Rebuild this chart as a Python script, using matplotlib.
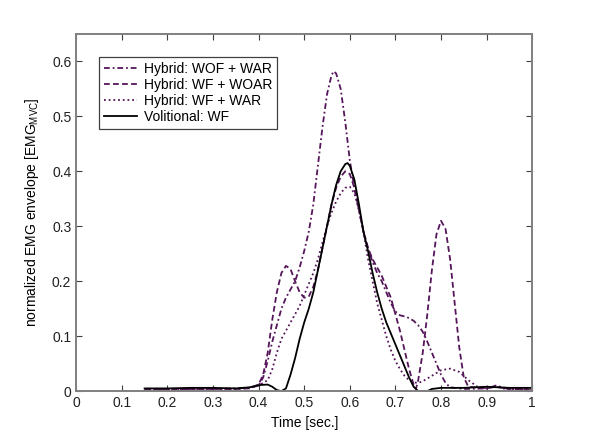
import matplotlib

matplotlib.use("Agg")
import matplotlib.pyplot as plt  # noqa: E402
from matplotlib.ticker import FormatStrFormatter  # noqa: E402

# values (time in s, normalized envelope)
wofwar_t = [0.15, 0.20, 0.25, 0.30, 0.35, 0.38, 0.40, 0.41, 0.42, 0.43, 0.44, 0.45,
            0.46, 0.47, 0.48, 0.49, 0.50, 0.51, 0.52, 0.53, 0.54, 0.55, 0.56, 0.565,
            0.57, 0.58, 0.59, 0.60, 0.61, 0.62, 0.63, 0.64, 0.65, 0.66, 0.67, 0.68,
            0.69, 0.70, 0.71, 0.72, 0.73, 0.74, 0.75, 0.76, 0.77, 0.78, 0.79, 0.80,
            0.81, 0.82, 0.85, 0.90, 0.92, 0.95, 1.00]
wofwar_v = [0.003, 0.003, 0.004, 0.004, 0.005, 0.006, 0.010, 0.025, 0.055, 0.090, 0.120, 0.150,
            0.170, 0.185, 0.200, 0.225, 0.255, 0.290, 0.340, 0.410, 0.480, 0.540, 0.575, 0.582,
            0.578, 0.550, 0.490, 0.420, 0.370, 0.330, 0.290, 0.260, 0.235, 0.215, 0.200, 0.180,
            0.160, 0.145, 0.138, 0.136, 0.133, 0.128, 0.120, 0.108, 0.090, 0.070, 0.050, 0.030,
            0.015, 0.007, 0.004, 0.005, 0.010, 0.004, 0.003]

wfwoar_t = [0.15, 0.20, 0.25, 0.30, 0.35, 0.38, 0.40, 0.41, 0.42, 0.43, 0.44, 0.45,
            0.46, 0.47, 0.48, 0.49, 0.50, 0.51, 0.52, 0.53, 0.54, 0.55, 0.56, 0.57,
            0.58, 0.59, 0.60, 0.61, 0.62, 0.63, 0.64, 0.65, 0.66, 0.67, 0.68, 0.69,
            0.70, 0.71, 0.72, 0.73, 0.74, 0.745, 0.75, 0.76, 0.77, 0.78, 0.79, 0.80,
            0.81, 0.82, 0.83, 0.84, 0.85, 0.86, 0.90, 0.92, 0.95, 1.00]
wfwoar_v = [0.003, 0.003, 0.004, 0.004, 0.004, 0.005, 0.012, 0.030, 0.070, 0.130, 0.180, 0.215,
            0.228, 0.222, 0.200, 0.180, 0.170, 0.172, 0.190, 0.220, 0.260, 0.300, 0.340, 0.370,
            0.390, 0.400, 0.395, 0.370, 0.330, 0.290, 0.260, 0.240, 0.225, 0.210, 0.190, 0.170,
            0.140, 0.110, 0.075, 0.040, 0.012, 0.004, 0.020, 0.070, 0.140, 0.220, 0.285, 0.310,
            0.295, 0.240, 0.160, 0.080, 0.025, 0.008, 0.005, 0.008, 0.004, 0.003]

wfwar_t = [0.15, 0.20, 0.25, 0.30, 0.35, 0.38, 0.40, 0.42, 0.43, 0.44, 0.45, 0.46,
           0.47, 0.48, 0.49, 0.50, 0.51, 0.52, 0.53, 0.54, 0.55, 0.56, 0.57, 0.58,
           0.59, 0.60, 0.61, 0.62, 0.63, 0.64, 0.65, 0.66, 0.67, 0.68, 0.69, 0.70,
           0.71, 0.72, 0.73, 0.74, 0.75, 0.76, 0.78, 0.80, 0.82, 0.84, 0.86, 0.88,
           0.90, 0.92, 0.94, 1.00]
wfwar_v = [0.002, 0.003, 0.003, 0.004, 0.004, 0.006, 0.010, 0.020, 0.040, 0.070, 0.095, 0.110,
           0.125, 0.140, 0.155, 0.175, 0.195, 0.215, 0.240, 0.270, 0.300, 0.325, 0.345, 0.360,
           0.370, 0.372, 0.360, 0.330, 0.290, 0.240, 0.200, 0.160, 0.130, 0.100, 0.075, 0.055,
           0.040, 0.028, 0.020, 0.016, 0.015, 0.018, 0.028, 0.038, 0.041, 0.035, 0.020, 0.008,
           0.005, 0.010, 0.004, 0.003]

vol_t = [0.15, 0.20, 0.25, 0.30, 0.35, 0.38, 0.40, 0.42, 0.43, 0.44, 0.45, 0.46,
         0.47, 0.48, 0.49, 0.50, 0.51, 0.52, 0.53, 0.54, 0.55, 0.56, 0.57, 0.58,
         0.59, 0.595, 0.60, 0.61, 0.62, 0.63, 0.64, 0.65, 0.66, 0.67, 0.68, 0.69,
         0.70, 0.71, 0.72, 0.73, 0.74, 0.75, 0.77, 0.78, 0.80, 0.85, 0.90, 0.95, 1.00]
vol_v = [0.005, 0.005, 0.006, 0.006, 0.005, 0.007, 0.011, 0.012, 0.008, 0.002, 0.000, 0.005,
         0.030, 0.060, 0.095, 0.125, 0.150, 0.180, 0.220, 0.260, 0.300, 0.340, 0.375, 0.400,
         0.413, 0.415, 0.410, 0.385, 0.340, 0.290, 0.255, 0.215, 0.180, 0.150, 0.125, 0.105,
         0.085, 0.065, 0.045, 0.025, 0.008, 0.000, 0.000, 0.004, 0.006, 0.006, 0.008, 0.006, 0.006]

PURPLE = "#55155a"
GRAY = "#808080"

plt.rcParams.update({
    "font.family": ["Liberation Sans", "DejaVu Sans"],
    "font.size": 10,
    "mathtext.fontset": "custom",
    "mathtext.rm": "Liberation Sans",
    "mathtext.it": "Liberation Sans",
})

fig = plt.figure(figsize=(6.0, 4.4), dpi=100)
ax = fig.add_axes([0.127, 0.111, 0.760, 0.812])

# short MATLAB-like dash patterns
ax.plot(wofwar_t, wofwar_v, color=PURPLE, lw=1.3, ls=(0, (3.2, 1.6, 1.0, 1.6)),
        label="Hybrid: WOF + WAR")
ax.plot(wfwoar_t, wfwoar_v, color=PURPLE, lw=1.3, ls=(0, (3.2, 1.8)),
        label="Hybrid: WF + WOAR")
ax.plot(wfwar_t, wfwar_v, color=PURPLE, lw=1.3, ls=(0, (1.0, 1.6)),
        label="Hybrid: WF + WAR")
ax.plot(vol_t, vol_v, color="black", lw=1.3, ls="-", label="Volitional: WF")

ax.set_xlim(0, 1)
ax.set_ylim(0, 0.65)
ax.set_xticks([i / 10 for i in range(11)])
ax.set_yticks([i / 10 for i in range(7)])
ax.xaxis.set_major_formatter(FormatStrFormatter("%g"))
ax.yaxis.set_major_formatter(FormatStrFormatter("%g"))
ax.tick_params(direction="in", length=4, width=0.8, color="#404040",
               top=True, right=True, labelsize=10, labelcolor="#202020")
for spine in ax.spines.values():
    spine.set_color(GRAY)
    spine.set_linewidth(1.4)

ax.set_xlabel("Time [sec.]", fontsize=10, labelpad=4)
ax.set_ylabel(r"normalized EMG envelope [EMG$_{\mathregular{MVC}}$]", fontsize=10, labelpad=8)

leg = ax.legend(loc="upper left", bbox_to_anchor=(0.035, 0.955), fontsize=10,
                handlelength=2.4, handletextpad=0.5, labelspacing=0.15,
                borderpad=0.35, fancybox=False, framealpha=1)
leg.get_frame().set_edgecolor("#404040")
leg.get_frame().set_linewidth(0.9)

fig.savefig("out.png", dpi=100)
